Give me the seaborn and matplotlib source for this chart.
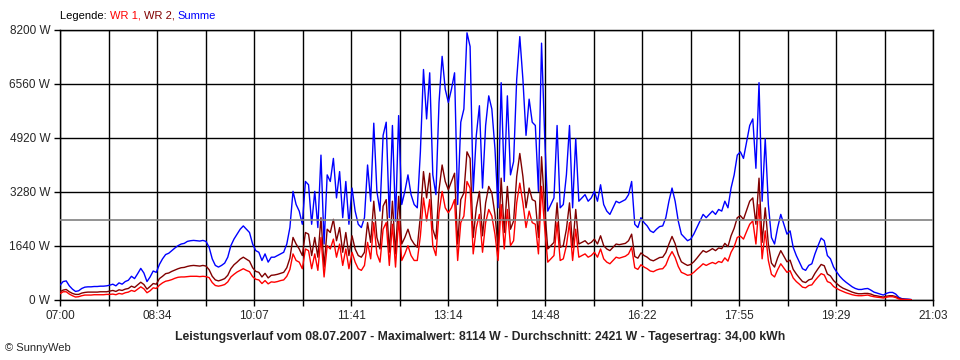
import numpy as np
import pandas as pd
import seaborn as sns
import matplotlib.pyplot as plt

# Leistung in W, ein Wert alle 3 Minuten ab 07:00
step_min = 3

summe = [
    450, 560, 580, 430, 330, 260, 280, 350, 390, 400,
    400, 410, 410, 420, 420, 430, 450, 480, 430, 520,
    480, 560, 600, 720, 650, 800, 960, 820, 560, 700,
    880, 840, 1080, 1250, 1380, 1420, 1500, 1580, 1650, 1700,
    1720, 1780, 1800, 1810, 1800, 1790, 1810, 1780, 1600, 1250,
    1050, 1000, 1050, 1120, 1300, 1650, 1850, 2000, 2150, 2250,
    2150, 2050, 1700, 1500, 1450, 1200, 1400, 1150, 1300, 1300,
    1350, 1400, 1450, 1700, 2200, 3300, 2900, 2700, 2300, 3600,
    3500, 2300, 3300, 2200, 4400, 1700, 3800, 3600, 4300, 3100,
    3900, 2500, 3600, 2300, 3400, 2700, 2300, 2200, 2500, 4100,
    3000, 5370, 3300, 2700, 5000, 5400, 2500, 5300, 2400, 5600,
    2900, 3300, 3800, 3200, 2900, 2800, 4500, 7000, 5500, 6900,
    3800, 3200, 6000, 7400, 6400, 6000, 6400, 6900, 2900, 5400,
    5800, 8114, 7700, 3300, 5000, 5900, 3400, 5300, 6200, 5800,
    4600, 2800, 6600, 3600, 6200, 3800, 4200, 6700, 8000, 6700,
    5000, 6100, 5400, 5300, 3300, 7800, 5000, 2700, 2900, 3100,
    5300, 2800, 2900, 3800, 5300, 2800, 4900, 3000, 3100, 3200,
    3000, 3100, 3300, 3000, 3500, 2900, 2700, 2600, 2800, 3000,
    2950, 3000, 3050, 3200, 3600, 2300, 2200, 2500, 2350, 2250,
    2100, 2050, 2150, 2230, 2250, 2500, 3000, 3400, 3000, 2400,
    2000, 1900, 1800, 1850, 2000, 2200, 2400, 2600, 2500, 2600,
    2700, 2600, 2750, 2700, 3000, 2800, 3400, 3800, 4400, 4500,
    4300, 4800, 5300, 5500, 4000, 6600, 3000, 4900, 2900, 1900,
    1700, 2200, 2600, 2300, 2000, 2100, 1600, 1350, 1150, 950,
    900, 1050, 1100, 1400, 1650, 1880, 1800, 1350, 1250, 1000,
    850, 720, 620, 540, 470, 400, 350, 320, 320, 340,
    350, 300, 240, 210, 180, 150, 200, 230, 230, 180,
    80, 40, 30, 25, 15,
]

wr2 = [
    250, 300, 320, 250, 200, 170, 170, 210, 230, 240,
    240, 240, 240, 250, 250, 250, 270, 290, 260, 310,
    290, 330, 350, 420, 380, 460, 540, 470, 330, 410,
    500, 480, 650, 720, 800, 820, 870, 910, 950, 980,
    990, 1020, 1040, 1050, 1040, 1030, 1050, 1030, 920, 720,
    610, 580, 610, 650, 750, 950, 1070, 1150, 1240, 1300,
    1240, 1180, 980, 870, 840, 700, 810, 670, 750, 760,
    780, 810, 840, 980, 1270, 1900, 1700, 1550, 1350, 2050,
    2000, 1350, 1900, 1300, 2500, 1000, 2150, 2050, 2450, 1800,
    2200, 1450, 2050, 1350, 1950, 1550, 1350, 1300, 1450, 2350,
    1750, 3000, 1900, 1550, 2850, 3050, 1450, 3000, 1400, 3150,
    1700, 1900, 2150, 1850, 1700, 1600, 2550, 3900, 3100, 3850,
    2150, 1850, 3350, 4100, 3600, 3350, 3600, 3850, 1700, 3050,
    3250, 4500, 4300, 1900, 2800, 3300, 1950, 2950, 3450, 3250,
    2600, 1600, 3700, 2050, 3450, 2150, 2400, 3750, 4450, 3750,
    2800, 3400, 3050, 3000, 1900, 4350, 2800, 1550, 1650, 1750,
    2950, 1600, 1650, 2150, 2950, 1600, 2750, 1700, 1750, 1800,
    1700, 1750, 1850, 1700, 1950, 1650, 1550, 1500, 1600, 1700,
    1680, 1700, 1720, 1800, 2000, 1320, 1270, 1430, 1350, 1300,
    1220, 1190, 1240, 1290, 1300, 1440, 1700, 1930, 1710, 1380,
    1160, 1100, 1050, 1080, 1160, 1270, 1390, 1500, 1450, 1500,
    1560, 1500, 1580, 1560, 1720, 1620, 1950, 2180, 2500, 2560,
    2450, 2720, 3000, 3100, 2300, 3700, 1750, 2800, 1700, 1120,
    1000, 1280, 1500, 1330, 1160, 1210, 930, 790, 670, 560,
    530, 610, 640, 810, 950, 1080, 1040, 790, 730, 590,
    500, 420, 360, 320, 280, 240, 210, 190, 190, 200,
    200, 180, 140, 125, 105, 90, 115, 130, 130, 105,
    50, 25, 20, 15, 10,
]

wr1 = [
    190, 250, 250, 180, 130, 90, 100, 130, 150, 150,
    150, 160, 160, 160, 160, 170, 170, 180, 160, 200,
    180, 220, 240, 290, 260, 330, 400, 340, 220, 280,
    370, 350, 450, 520, 570, 590, 620, 660, 690, 700,
    700, 710, 720, 720, 720, 710, 720, 710, 680, 530,
    440, 420, 440, 470, 550, 700, 780, 850, 900, 950,
    900, 860, 710, 630, 610, 500, 590, 490, 550, 540,
    560, 590, 610, 720, 930, 1400, 1200, 1150, 950, 1550,
    1500, 950, 1400, 900, 1900, 700, 1650, 1550, 1850, 1300,
    1700, 1050, 1550, 950, 1450, 1150, 950, 900, 1050, 1750,
    1250, 2350, 1400, 1150, 2150, 2350, 1050, 2300, 1000, 2450,
    1200, 1400, 1650, 1350, 1200, 1200, 1950, 3100, 2400, 3050,
    1650, 1350, 2650, 3300, 2800, 2650, 2800, 3050, 1200, 2350,
    2550, 3600, 3400, 1400, 2200, 2600, 1450, 2350, 2750, 2550,
    2000, 1200, 2900, 1550, 2750, 1650, 1800, 2950, 3550, 2950,
    2200, 2700, 2350, 2300, 1400, 3450, 2200, 1150, 1250, 1350,
    2350, 1200, 1250, 1650, 2350, 1200, 2150, 1300, 1350, 1400,
    1300, 1350, 1450, 1300, 1550, 1250, 1150, 1100, 1200, 1300,
    1270, 1300, 1330, 1400, 1600, 980, 930, 1070, 1000, 950,
    880, 860, 910, 940, 950, 1060, 1300, 1470, 1290, 1020,
    840, 800, 750, 770, 840, 930, 1010, 1100, 1050, 1100,
    1140, 1100, 1170, 1140, 1280, 1180, 1450, 1620, 1900, 1940,
    1850, 2080, 2300, 2400, 1700, 2900, 1250, 2100, 1200, 780,
    700, 920, 1100, 970, 840, 890, 670, 560, 480, 390,
    370, 440, 460, 590, 700, 800, 760, 560, 520, 410,
    350, 300, 260, 220, 190, 160, 140, 130, 130, 140,
    150, 120, 100, 85, 75, 60, 85, 100, 100, 75,
    30, 15, 10, 10, 5,
]

time_labels = ["07:00", "08:34", "10:07", "11:41", "13:14",
               "14:48", "16:22", "17:55", "19:29", "21:03"]
y_ticks = [0, 1640, 3280, 4920, 6560, 8200]
durchschnitt = 2421
span_min = 843

colors = {"Summe": "#0000ff", "WR 2": "#800000", "WR 1": "#ff0000"}

df = pd.DataFrame({"t": np.arange(len(summe)) * step_min,
                   "WR 1": wr1, "WR 2": wr2, "Summe": summe})
long_df = df.melt(id_vars="t", var_name="serie", value_name="P")

sns.set_style("white")
plt.rcParams["font.family"] = ["Liberation Sans", "DejaVu Sans"]

fig = plt.figure(figsize=(9.6, 3.6), dpi=100)
ax = fig.add_axes([60 / 960, 60 / 360, 873 / 960, 270 / 360])

sns.lineplot(data=long_df, x="t", y="P", hue="serie",
             hue_order=["Summe", "WR 2", "WR 1"], palette=colors,
             linewidth=1.0, legend=False, errorbar=None, ax=ax, zorder=3)
ax.axhline(durchschnitt, color="#808080", lw=1.2, zorder=4)

# Gitter: jede zweite Linie bekommt eine Beschriftung
xt = np.linspace(0, span_min, 2 * len(time_labels) - 1)
xl = []
for i in range(len(xt)):
    xl.append(time_labels[i // 2] if i % 2 == 0 else "")
ax.set_xticks(xt)
ax.set_xticklabels(xl)
ax.set_yticks(y_ticks)
ax.set_yticklabels([f"{v} W" for v in y_ticks])
ax.set_xlim(0, span_min)
ax.set_ylim(0, 8200)
ax.grid(True, color="black", lw=1.0)
ax.set_axisbelow(True)
ax.set_xlabel("")
ax.set_ylabel("")
ax.tick_params(direction="out", length=4, width=1, color="black",
               labelsize=8.5, pad=3, left=True, bottom=True)
for sp in ax.spines.values():
    sp.set_visible(True)
    sp.set_color("black")
    sp.set_linewidth(1.0)

fig.text(0.5, 1 - 337 / 360,
         "Leistungsverlauf vom 08.07.2007 - Maximalwert: 8114 W - "
         "Durchschnitt: 2421 W - Tagesertrag: 34,00 kWh",
         ha="center", va="center", fontsize=8.8, fontweight="bold")
fig.text(5 / 960, 1 - 348 / 360, "\u00a9 SunnyWeb", ha="left",
         va="center", fontsize=8)

# Legende oben links, farbig
t = fig.text(60 / 960, 1 - 16 / 360, "Legende: ", ha="left",
             va="center", fontsize=8, color="black")
for txt, c in [("WR 1, ", colors["WR 1"]), ("WR 2, ", colors["WR 2"]),
               ("Summe", colors["Summe"])]:
    t = ax.annotate(txt, xy=(1, 0), xycoords=t, ha="left", va="bottom",
                    fontsize=8, color=c)

fig.savefig("out.png", dpi=100)
